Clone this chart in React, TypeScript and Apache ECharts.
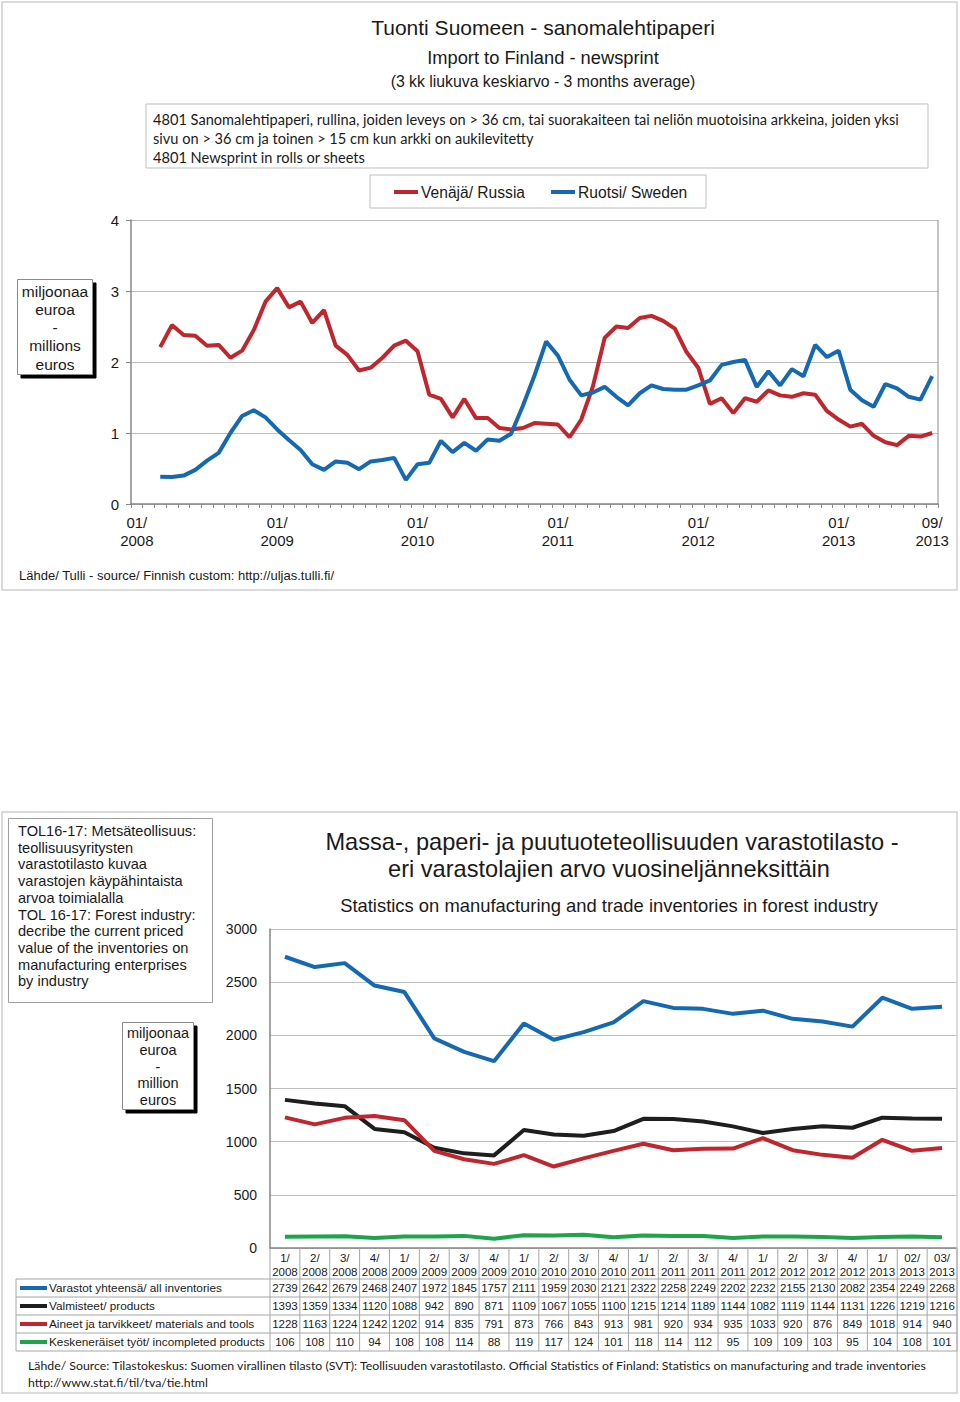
import React, { useEffect, useRef } from "react";
import * as echarts from "echarts";

// ---------- Top chart data (monthly, 3-month moving average, M€) ----------
const monthLabels: string[] = (() => {
  const out: string[] = [];
  for (let y = 2008; y <= 2013; y++) {
    for (let m = 1; m <= 12; m++) {
      if (y === 2013 && m > 9) break;
      out.push((m < 10 ? "0" + m : "" + m) + "/" + y);
    }
  }
  return out;
})();

const russia: (number | null)[] = [
  null, null, 2.21, 2.52, 2.38, 2.37, 2.23, 2.24, 2.06, 2.16, 2.45, 2.85,
  3.04, 2.77, 2.85, 2.55, 2.73, 2.23, 2.10, 1.88, 1.92, 2.06, 2.23, 2.30,
  2.15, 1.54, 1.48, 1.22, 1.48, 1.21, 1.21, 1.07, 1.05, 1.07, 1.14, 1.13,
  1.12, 0.94, 1.19, 1.66, 2.34, 2.50, 2.48, 2.62, 2.65, 2.58, 2.47, 2.14,
  1.92, 1.41, 1.49, 1.28, 1.49, 1.44, 1.60, 1.53, 1.51, 1.56, 1.54, 1.31,
  1.19, 1.09, 1.13, 0.96, 0.87, 0.83, 0.96, 0.95, 1.00,
];

const sweden: (number | null)[] = [
  null, null, 0.385, 0.38, 0.40, 0.48, 0.61, 0.72, 1.00, 1.24, 1.32, 1.22,
  1.05, 0.90, 0.76, 0.56, 0.48, 0.60, 0.58, 0.49, 0.60, 0.62, 0.65, 0.34,
  0.56, 0.58, 0.89, 0.73, 0.86, 0.75, 0.91, 0.89, 0.99, 1.38, 1.81, 2.29,
  2.09, 1.75, 1.53, 1.57, 1.65, 1.51, 1.39, 1.56, 1.67, 1.62, 1.61, 1.61,
  1.67, 1.74, 1.96, 2.00, 2.03, 1.65, 1.87, 1.67, 1.90, 1.80, 2.24, 2.07,
  2.16, 1.61, 1.46, 1.37, 1.69, 1.63, 1.51, 1.47, 1.80,
];

const topYTicks = [0, 1, 2, 3, 4];

// ---------- Bottom chart data (quarterly inventories, M€) ----------
const quarters = [
  "1/2008", "2/2008", "3/2008", "4/2008", "1/2009", "2/2009", "3/2009", "4/2009",
  "1/2010", "2/2010", "3/2010", "4/2010", "1/2011", "2/2011", "3/2011", "4/2011",
  "1/2012", "2/2012", "3/2012", "4/2012", "1/2013", "02/2013", "03/2013",
];
const allInventories = [2739, 2642, 2679, 2468, 2407, 1972, 1845, 1757, 2111, 1959, 2030, 2121, 2322, 2258, 2249, 2202, 2232, 2155, 2130, 2082, 2354, 2249, 2268];
const products = [1393, 1359, 1334, 1120, 1088, 942, 890, 871, 1109, 1067, 1055, 1100, 1215, 1214, 1189, 1144, 1082, 1119, 1144, 1131, 1226, 1219, 1216];
const materials = [1228, 1163, 1224, 1242, 1202, 914, 835, 791, 873, 766, 843, 913, 981, 920, 934, 935, 1033, 920, 876, 849, 1018, 914, 940];
const incompleted = [106, 108, 110, 94, 108, 108, 114, 88, 119, 117, 124, 101, 118, 114, 112, 95, 109, 109, 103, 95, 104, 108, 101];

const bottomSeriesNames = [
  "Varastot yhteensä/ all inventories",
  "Valmisteet/ products",
  "Aineet ja tarvikkeet/ materials and tools",
  "Keskeneräiset työt/ incompleted products",
];

const RED = "#C0262D";
const BLUE = "#1469B0";
const BLACK = "#1E1E1E";
const GREEN = "#1EA54B";
const ARIAL = "Liberation Sans, Arial, sans-serif";
const CALIBRI = "Lato, 'Open Sans', sans-serif";
const TXT = "#1a1a1a";

function text(x: number, y: number, t: string, size: number, opts: any = {}) {
  return {
    type: "text",
    x,
    y,
    style: {
      text: t,
      fontSize: size,
      fontFamily: opts.font || ARIAL,
      fill: opts.color || TXT,
      textAlign: opts.align || "left",
      textVerticalAlign: "middle",
    },
    z: 10,
  };
}
function rect(x: number, y: number, w: number, h: number, stroke: string, fill = "none", lw = 1) {
  return { type: "rect", shape: { x, y, width: w, height: h }, style: { fill, stroke, lineWidth: lw }, z: 5 };
}
function line(x1: number, y1: number, x2: number, y2: number, stroke: string, lw = 1) {
  return { type: "line", shape: { x1, y1, x2, y2 }, style: { stroke, lineWidth: lw }, z: 6 };
}

export default function App() {
  const ref = useRef<HTMLDivElement>(null);
  useEffect(() => {
    if (!ref.current) return;
    const chart = echarts.init(ref.current, null, { renderer: "svg" });

    const bLeft = 270;
    const bRight = 957;
    const colW = (bRight - bLeft) / quarters.length;
    const rowLines = [1279, 1297, 1315, 1333, 1351];
    const rowColors = [BLUE, BLACK, RED, GREEN];
    const rowData = [allInventories, products, materials, incompleted];

    const graphics: any[] = [];
    graphics.push(rect(2, 2, 955, 588, "#D0D0D0", "none", 1.5));
    graphics.push(rect(2, 812, 955, 581, "#D0D0D0", "none", 1.5));

    graphics.push(text(543, 27, "Tuonti Suomeen - sanomalehtipaperi", 21, { align: "center" }));
    graphics.push(text(543, 57, "Import to Finland - newsprint", 18.3, { align: "center" }));
    graphics.push(text(543, 81, "(3 kk liukuva keskiarvo - 3 months average)", 15.8, { align: "center" }));

    graphics.push(rect(146, 104, 782, 64, "#BFBFBF", "#fff"));
    graphics.push(text(153, 119, "4801 Sanomalehtipaperi, rullina, joiden leveys on > 36 cm, tai suorakaiteen tai neliön muotoisina arkkeina, joiden yksi", 14.6, { font: CALIBRI }));
    graphics.push(text(153, 138, "sivu on > 36 cm ja toinen > 15 cm kun arkki on aukilevitetty", 14.6, { font: CALIBRI }));
    graphics.push(text(153, 157, "4801 Newsprint in rolls or sheets", 14.6, { font: CALIBRI }));

    graphics.push(rect(370, 175, 336, 33, "#BFBFBF", "#fff"));

    graphics.push(rect(21, 283, 75, 95, "#000", "#000"));
    graphics.push(rect(17.5, 279.5, 75, 95, "#8a8a8a", "#fff"));
    ["miljoonaa", "euroa", "-", "millions", "euros"].forEach((t, i) =>
      graphics.push(text(55, 291 + i * 18.3, t, 15.5, { align: "center" }))
    );

    graphics.push(line(938, 220, 938, 504, "#8a8a8a", 1));

    graphics.push(text(19, 575, "Lähde/ Tulli - source/ Finnish custom: http://uljas.tulli.fi/", 13, {}));

    graphics.push(rect(8.5, 818.5, 204, 184, "#A0A0A0", "#fff"));
    [
      "TOL16-17: Metsäteollisuus:",
      "teollisuusyritysten",
      "varastotilasto kuvaa",
      "varastojen käypähintaista",
      "arvoa toimialalla",
      "TOL 16-17: Forest industry:",
      "decribe the current priced",
      "value of the inventories on",
      "manufacturing enterprises",
      "by industry",
    ].forEach((t, i) => graphics.push(text(18, 831 + i * 16.7, t, 14.6)));

    graphics.push(text(612, 842, "Massa-, paperi- ja puutuoteteollisuuden varastotilasto -", 23.6, { align: "center" }));
    graphics.push(text(609, 869, "eri varastolajien arvo vuosineljänneksittäin", 23.6, { align: "center" }));
    graphics.push(text(609, 905, "Statistics on manufacturing and trade inventories in forest industry", 18.4, { align: "center" }));

    graphics.push(rect(126, 1026, 71, 87, "#000", "#000"));
    graphics.push(rect(122.5, 1022.5, 71, 87, "#8a8a8a", "#fff"));
    ["miljoonaa", "euroa", "-", "million", "euros"].forEach((t, i) =>
      graphics.push(text(158, 1033 + i * 16.8, t, 14.5, { align: "center" }))
    );

    rowLines.forEach((y) => graphics.push(line(16, y, bRight, y, "#A6A6A6", 1)));
    graphics.push(line(16, rowLines[0], 16, rowLines[4], "#A6A6A6", 1));
    for (let k = 0; k <= quarters.length; k++) {
      const x = bLeft + k * colW;
      graphics.push(line(x, 1248, x, rowLines[4], "#A6A6A6", 1));
    }
    rowData.forEach((arr, r) => {
      const cy = (rowLines[r] + rowLines[r + 1]) / 2;
      graphics.push(line(20, cy, 47, cy, rowColors[r], 4));
      graphics.push(text(49, cy, bottomSeriesNames[r], 11.8));
      arr.forEach((v, c) => {
        graphics.push(text(bLeft + (c + 0.5) * colW, cy, String(v), 11.5, { align: "center" }));
      });
    });

    graphics.push(text(28, 1365, "Lähde/ Source: Tilastokeskus: Suomen virallinen tilasto (SVT): Teollisuuden varastotilasto. Official Statistics of Finland: Statistics on manufacturing and trade inventories", 12.3, { font: CALIBRI }));
    graphics.push(text(28, 1382, "http://www.stat.fi/til/tva/tie.html", 12.3, { font: CALIBRI }));

    const option: any = {
      animation: false,
      backgroundColor: "#fff",
      textStyle: { fontFamily: ARIAL },
      legend: {
        data: ["Venäjä/ Russia", "Ruotsi/ Sweden"],
        left: 394,
        top: 184,
        padding: 0,
        itemWidth: 24,
        itemHeight: 4,
        itemGap: 26,
        icon: "rect",
        textStyle: { fontSize: 15.6, color: TXT, fontFamily: ARIAL, padding: [0, 0, 0, -2] },
        z: 20,
      },
      grid: [
        { left: 131, top: 220, width: 807, height: 284 },
        { left: bLeft, top: 929, width: bRight - bLeft, height: 319 },
      ],
      xAxis: [
        {
          type: "category",
          gridIndex: 0,
          data: monthLabels,
          boundaryGap: true,
          axisLine: { lineStyle: { color: "#868686", width: 1.5 } },
          axisTick: { show: true, interval: 0, length: 4, lineStyle: { color: "#868686" } },
          axisLabel: {
            interval: (idx: number) => idx % 12 === 0 || idx === monthLabels.length - 1,
            formatter: (v: string) => v.replace("/", "/\n"),
            fontSize: 15,
            lineHeight: 18,
            color: TXT,
            margin: 9,
            fontFamily: ARIAL,
          },
          splitLine: { show: false },
        },
        {
          type: "category",
          gridIndex: 1,
          data: quarters,
          boundaryGap: true,
          axisLine: { lineStyle: { color: "#868686", width: 1.5 } },
          axisTick: { show: false },
          axisLabel: {
            interval: 0,
            formatter: (v: string) => v.replace("/", "/\n"),
            fontSize: 11.5,
            lineHeight: 14,
            color: TXT,
            margin: 3,
            fontFamily: ARIAL,
          },
          splitLine: { show: false },
        },
      ],
      yAxis: [
        {
          type: "value",
          gridIndex: 0,
          min: topYTicks[0],
          max: topYTicks[topYTicks.length - 1],
          interval: 1,
          axisLine: { show: true, lineStyle: { color: "#868686", width: 1.5 } },
          axisTick: { show: true, length: 5, lineStyle: { color: "#868686" } },
          axisLabel: { fontSize: 15, color: TXT, margin: 12, fontFamily: ARIAL },
          splitLine: { show: true, lineStyle: { color: "#BEBEBE", width: 1 } },
        },
        {
          type: "value",
          gridIndex: 1,
          min: 0,
          max: 3000,
          interval: 500,
          axisLine: { show: true, lineStyle: { color: "#868686", width: 1.5 } },
          axisTick: { show: false },
          axisLabel: { fontSize: 14, color: TXT, margin: 13, fontFamily: ARIAL, formatter: (v: number) => String(v) },
          splitLine: { show: true, lineStyle: { color: "#BEBEBE", width: 1 } },
        },
      ],
      series: [
        {
          name: "Venäjä/ Russia",
          type: "line",
          xAxisIndex: 0,
          yAxisIndex: 0,
          data: russia,
          symbol: "none",
          lineStyle: { color: RED, width: 4 },
          itemStyle: { color: RED },
        },
        {
          name: "Ruotsi/ Sweden",
          type: "line",
          xAxisIndex: 0,
          yAxisIndex: 0,
          data: sweden,
          symbol: "none",
          lineStyle: { color: BLUE, width: 4 },
          itemStyle: { color: BLUE },
        },
        ...[allInventories, products, materials, incompleted].map((d, i) => ({
          name: bottomSeriesNames[i],
          type: "line",
          xAxisIndex: 1,
          yAxisIndex: 1,
          data: d,
          symbol: "none",
          lineStyle: { color: rowColors[i], width: 4 },
          itemStyle: { color: rowColors[i] },
        })),
      ],
      graphic: graphics,
    };
    chart.setOption(option);
    return () => chart.dispose();
  }, []);
  return (
    <div
      ref={ref}
      style={{ position: "absolute", left: 0, top: 0, width: 960, height: 1402, background: "#fff" }}
    />
  );
}
